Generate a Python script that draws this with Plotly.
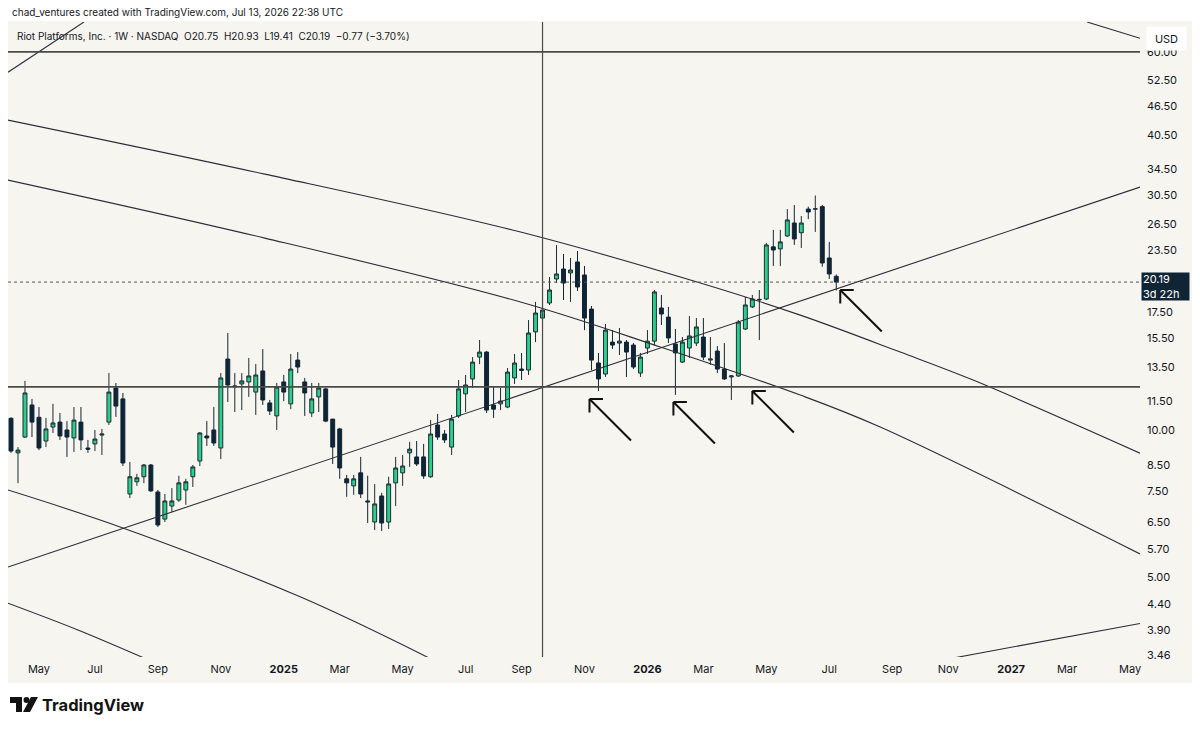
import math
import pandas as pd
import plotly.graph_objects as go

# ---------------- data (weekly candles, RIOT, from week of 2024-04-08) ----------------
first_week = "2024-04-08"
opens = [10.60, 9.00, 9.70, 11.29, 10.65, 9.52, 10.17, 10.41, 10.03, 9.66,
         10.41, 9.21, 9.39, 9.79, 10.41, 12.23, 11.62, 7.41, 7.85, 8.04,
         8.50, 7.48, 6.58, 7.00, 7.20, 7.55, 8.04, 8.66, 9.75, 10.03,
         9.21, 14.03, 12.30, 12.47, 12.59, 12.00, 13.26, 11.40, 10.72, 12.59,
         11.35, 13.96, 12.59, 10.87, 11.73, 12.18, 10.56, 10.08, 7.96, 7.70,
         8.19, 7.17, 6.49, 7.34, 6.49, 7.81, 8.19, 9.00, 8.83, 8.83,
         8.04, 10.27, 9.84, 9.25, 10.72, 11.90, 12.77, 14.16, 14.50, 11.29,
         11.35, 11.18, 12.83, 13.38, 13.32, 15.95, 17.03, 18.29, 20.49, 21.48,
         21.08, 22.21, 20.88, 17.77, 13.77, 13.07, 15.20, 15.13, 15.20, 14.99,
         13.13, 14.78, 15.27, 17.86, 17.11, 15.06, 13.83, 14.78, 15.13, 15.57,
         13.96, 14.57, 13.38, 12.89, 12.95, 16.17, 17.95, 18.55, 18.64, 23.85,
         23.62, 25.11, 26.70, 25.50, 28.52, 28.52, 28.85, 22.63, 20.75]
highs = [10.65, 9.25, 12.65, 11.62, 11.18, 10.62, 11.35, 10.87, 10.46, 11.18,
         11.18, 9.57, 10.03, 10.08, 13.13, 12.53, 11.95, 8.62, 8.15, 8.54,
         8.54, 7.55, 7.41, 7.62, 8.08, 7.96, 8.50, 9.93, 10.46, 11.18,
         13.13, 15.87, 13.13, 13.13, 14.10, 13.70, 14.71, 11.56, 12.53, 13.01,
         14.37, 14.50, 12.83, 12.53, 12.53, 12.23, 10.56, 10.13, 8.11, 8.11,
         8.83, 8.08, 7.77, 7.45, 8.04, 8.83, 8.91, 9.48, 9.52, 9.39,
         10.51, 10.82, 10.03, 10.77, 12.71, 13.01, 14.16, 15.35, 14.57, 12.29,
         12.23, 13.45, 14.37, 14.44, 16.87, 18.38, 18.03, 20.68, 24.07, 23.06,
         22.63, 23.39, 21.79, 18.03, 14.44, 16.56, 16.09, 16.25, 15.35, 15.13,
         14.44, 16.09, 19.45, 19.00, 17.95, 16.17, 15.57, 17.19, 17.03, 17.03,
         15.57, 14.92, 15.13, 13.01, 16.87, 18.82, 19.00, 19.45, 24.30, 25.84,
         25.84, 28.52, 29.07, 27.60, 28.85, 30.42, 29.07, 24.42, 20.93]
lows = [9.00, 7.80, 9.66, 9.70, 9.12, 9.25, 9.89, 9.57, 8.83, 9.04,
        9.12, 9.00, 9.08, 8.91, 10.27, 10.67, 8.46, 7.27, 7.70, 7.80,
        7.48, 6.34, 6.49, 6.81, 7.14, 7.04, 7.66, 8.46, 9.30, 9.30,
        8.74, 11.45, 10.92, 11.02, 11.73, 10.77, 11.29, 10.77, 10.03, 11.50,
        11.07, 13.13, 10.72, 10.67, 10.92, 10.41, 8.54, 7.96, 7.31, 7.38,
        7.27, 6.46, 6.25, 6.22, 6.28, 7.00, 7.70, 8.42, 8.46, 7.96,
        8.00, 9.57, 9.43, 8.91, 10.62, 10.92, 12.23, 13.70, 10.87, 10.62,
        11.02, 11.12, 12.47, 12.71, 13.01, 15.20, 16.71, 18.12, 20.10, 18.55,
        18.38, 19.36, 16.09, 13.32, 12.06, 12.89, 14.71, 14.30, 12.89, 13.38,
        12.89, 14.37, 14.99, 16.48, 15.13, 11.84, 13.77, 14.10, 14.92, 13.96,
        13.64, 13.13, 12.71, 11.56, 12.89, 16.09, 17.86, 15.35, 18.55, 21.79,
        21.79, 25.00, 24.07, 23.73, 27.20, 25.60, 21.70, 20.49, 19.41]
closes = [9.08, 9.12, 11.95, 10.41, 9.21, 10.08, 10.37, 9.75, 9.70, 10.51,
          9.57, 9.16, 9.61, 9.84, 12.00, 11.23, 8.58, 8.04, 8.00, 8.50,
          7.52, 6.40, 7.17, 7.17, 7.81, 7.85, 8.42, 9.89, 9.66, 9.43,
          12.83, 12.41, 12.35, 12.65, 12.95, 13.01, 11.56, 10.97, 12.29, 12.00,
          13.38, 13.51, 11.95, 11.62, 12.23, 10.46, 9.25, 8.38, 7.81, 7.96,
          7.41, 7.14, 7.07, 6.46, 7.77, 8.38, 8.46, 9.16, 8.54, 8.07,
          9.84, 9.70, 9.57, 10.56, 12.18, 12.41, 13.83, 14.50, 11.02, 11.07,
          11.50, 13.19, 13.77, 13.30, 15.87, 17.44, 17.69, 19.45, 20.98, 20.10,
          21.38, 19.73, 17.03, 13.96, 12.77, 16.09, 14.99, 15.27, 14.50, 13.51,
          14.16, 15.27, 19.27, 17.36, 15.50, 14.44, 15.20, 15.65, 16.33, 14.16,
          14.03, 13.38, 12.77, 12.95, 16.71, 18.12, 18.64, 18.60, 24.07, 23.50,
          24.42, 27.09, 24.76, 26.70, 28.13, 28.55, 22.10, 20.98, 20.19]
last_price = 20.19

# axis ticks
price_ticks = [60.00, 52.50, 46.50, 40.50, 34.50, 30.50, 26.50, 23.50, 17.50, 15.50,
               13.50, 11.50, 10.00, 8.50, 7.50, 6.50, 5.70, 5.00, 4.40, 3.90, 3.46]
date_ticks = ["2024-05-06", "2024-07-01", "2024-09-02", "2024-11-04", "2025-01-06",
              "2025-03-03", "2025-05-05", "2025-07-07", "2025-09-01", "2025-11-03",
              "2026-01-05", "2026-03-02", "2026-05-04", "2026-07-06", "2026-09-07",
              "2026-11-02", "2027-01-04", "2027-03-01", "2027-05-03"]
date_tick_labels = ["May", "Jul", "Sep", "Nov", "<b>2025</b>", "Mar", "May", "Jul", "Sep",
                    "Nov", "<b>2026</b>", "Mar", "May", "Jul", "Sep", "Nov", "<b>2027</b>",
                    "Mar", "May"]
x_range = ["2024-04-05", "2027-05-13"]
y_range = [3.427, 69.1]

# drawings (anchor points: dates, prices)
rising_line_dates = ["2024-04-05", "2027-05-13"]
rising_line_prices = [5.245, 31.65]
top_left_line_dates = ["2024-04-05", "2024-06-20"]
top_left_line_prices = [54.5, 69.1]
top_right_line_dates = ["2027-03-21", "2027-05-13"]
top_right_line_prices = [69.1, 64.0]
bottom_right_line_dates = ["2026-10-15", "2027-05-13"]
bottom_right_line_prices = [3.342, 4.016]
curve_a_dates = ["2024-04-05", "2024-12-18", "2025-08-31", "2026-02-27", "2026-06-07",
                 "2026-09-15", "2026-11-27", "2027-05-13"]
curve_a_prices = [43.45, 33.65, 25.58, 20.10, 17.27, 14.50, 12.70, 8.99]
curve_b_dates = ["2024-04-05", "2024-12-18", "2025-08-31", "2026-01-18", "2026-06-07",
                 "2026-08-26", "2027-05-13"]
curve_b_prices = [32.71, 24.86, 18.37, 14.85, 11.83, 10.17, 5.58]
curve_c_dates = ["2024-04-05", "2024-07-29", "2025-01-23", "2025-06-03"]
curve_c_prices = [7.55, 6.31, 4.55, 3.39]
curve_d_dates = ["2024-04-05", "2024-06-14", "2024-08-26"]
curve_d_prices = [4.42, 3.894, 3.363]
h_level_top = 60.0
h_level_support = 12.3
v_line_date = "2025-09-22"

arrow_tip_dates = ["2025-11-08", "2026-01-31", "2026-04-20", "2026-07-17"]
arrow_tip_prices = [11.61, 11.45, 12.06, 19.45]

# ---------------- figure ----------------
W, H = 1200, 730
PL, PR, PT, PB = 8, 1140, 22, 657
BG = "#f7f5f0"
INK = "#131722"
LINE = "#2a2e39"
GREEN = "#29cf8d"
DARK = "#0f2536"
FONT = "Inter, Roboto, sans-serif"


def px_x(px):
    return (px - PL) / (PR - PL)


def px_y(py):
    return (PB - py) / (PB - PT)


dates = pd.date_range(first_week, periods=len(opens), freq="7D")

fig = go.Figure()


def add_line(xs, ys, color=LINE, width=1.1, dash="solid", shape="linear"):
    fig.add_trace(go.Scatter(x=xs, y=ys, mode="lines", hoverinfo="skip",
                             line=dict(color=color, width=width, dash=dash, shape=shape,
                                       smoothing=1.0 if shape == "spline" else None),
                             showlegend=False))


add_line(curve_a_dates, curve_a_prices, shape="spline")
add_line(curve_b_dates, curve_b_prices, shape="spline")
add_line(curve_c_dates, curve_c_prices, shape="spline")
add_line(curve_d_dates, curve_d_prices, shape="spline")
add_line(rising_line_dates, rising_line_prices)
add_line(top_left_line_dates, top_left_line_prices)
add_line(top_right_line_dates, top_right_line_prices)
add_line(bottom_right_line_dates, bottom_right_line_prices)
add_line(x_range, [h_level_top, h_level_top], color="#4a4a4a", width=1.6)
add_line(x_range, [h_level_support, h_level_support], color="#4a4a4a", width=1.6)
add_line([v_line_date, v_line_date], y_range, color="#4a4a4a", width=1.2)
add_line(x_range, [last_price, last_price], color="#555555", width=1, dash="dot")

fig.add_trace(go.Candlestick(
    x=dates, open=opens, high=highs, low=lows, close=closes,
    increasing=dict(fillcolor=GREEN, line=dict(color="#1d2b33", width=1)),
    decreasing=dict(fillcolor=DARK, line=dict(color=DARK, width=1)),
    whiskerwidth=0, hoverinfo="skip", showlegend=False))

annotations = []
# arrows (shaft + two arms)
for d, p in zip(arrow_tip_dates, arrow_tip_prices):
    for ax, ay in [(43, 43), (15, 0), (0, 15)]:
        annotations.append(dict(x=d, y=math.log10(p), xref="x", yref="y", text="",
                                showarrow=True, arrowhead=0, arrowwidth=2,
                                arrowcolor="#111111", ax=ax, ay=ay, standoff=0))

annotations += [
    dict(xref="paper", yref="paper", x=px_x(10), y=px_y(12), xanchor="left",
         yanchor="middle", showarrow=False,
         text="chad_ventures created with TradingView.com, Jul 13, 2026 22:38 UTC",
         font=dict(family=FONT, size=10, color=INK)),
    dict(xref="paper", yref="paper", x=px_x(15), y=px_y(36), xanchor="left",
         yanchor="middle", showarrow=False,
         text="Riot Platforms, Inc. · 1W · NASDAQ  O20.75  H20.93  L19.41  C20.19  −0.77 (−3.70%)",
         font=dict(family=FONT, size=10, color=INK)),
    dict(xref="paper", yref="paper", x=px_x(1146), y=px_y(38), xanchor="left",
         yanchor="middle", showarrow=False, text="USD", bgcolor="#ffffff",
         width=37, height=21, borderpad=1, align="center",
         font=dict(family=FONT, size=11, color=INK)),
    dict(xref="paper", yref="y", x=px_x(1141), y=math.log10(last_price), xanchor="left",
         yanchor="middle", yshift=-4, showarrow=False, text="20.19<br>3d 22h",
         bgcolor=DARK, width=45, height=25, borderpad=1, align="left",
         font=dict(family=FONT, size=11, color="#ffffff")),
    dict(xref="paper", yref="paper", x=px_x(40), y=px_y(705), xanchor="left",
         yanchor="middle", showarrow=False, text="<b>TradingView</b>",
         font=dict(family=FONT, size=16.5, color="#131313")),
]

shapes = [
    dict(type="rect", xref="paper", yref="paper", x0=px_x(8), x1=px_x(1192),
         y0=px_y(683), y1=px_y(21), fillcolor=BG, line=dict(width=0), layer="below"),
    # TradingView logo icon
    dict(type="path", xref="paper", yref="paper", xsizemode="pixel", ysizemode="pixel",
         xanchor=px_x(10), yanchor=px_y(697),
         path="M0,0 L12,0 L12,-15 L6,-15 L6,-6 L0,-6 Z",
         fillcolor="#131313", line=dict(width=0)),
    dict(type="circle", xref="paper", yref="paper", xsizemode="pixel", ysizemode="pixel",
         xanchor=px_x(10), yanchor=px_y(697), x0=13.5, x1=19.5, y0=-6, y1=0,
         fillcolor="#131313", line=dict(width=0)),
    dict(type="path", xref="paper", yref="paper", xsizemode="pixel", ysizemode="pixel",
         xanchor=px_x(10), yanchor=px_y(697),
         path="M21,0 L28,0 L20,-15 L13,-15 Z",
         fillcolor="#131313", line=dict(width=0)),
]

fig.update_layout(
    width=W, height=H,
    margin=dict(l=PL, r=W - PR, t=PT, b=H - PB, pad=0),
    paper_bgcolor="#ffffff", plot_bgcolor=BG,
    font=dict(family=FONT, size=11, color=INK),
    showlegend=False,
    boxgap=0.2,
    annotations=annotations,
    shapes=shapes,
    xaxis=dict(type="date", range=x_range, rangeslider=dict(visible=False),
               showgrid=False, zeroline=False, showline=False, ticks="",
               tickvals=date_ticks, ticktext=date_tick_labels,
               tickfont=dict(family=FONT, size=11, color=INK), ticklabelstandoff=4,
               fixedrange=True),
    yaxis=dict(type="log", range=[math.log10(y_range[0]), math.log10(y_range[1])],
               side="right", showgrid=False, zeroline=False, showline=False, ticks="",
               tickvals=price_ticks, ticktext=[f"{v:.2f}" for v in price_ticks],
               tickfont=dict(family=FONT, size=11, color=INK), ticklabelstandoff=6,
               fixedrange=True),
)

fig.write_html("out.html")
